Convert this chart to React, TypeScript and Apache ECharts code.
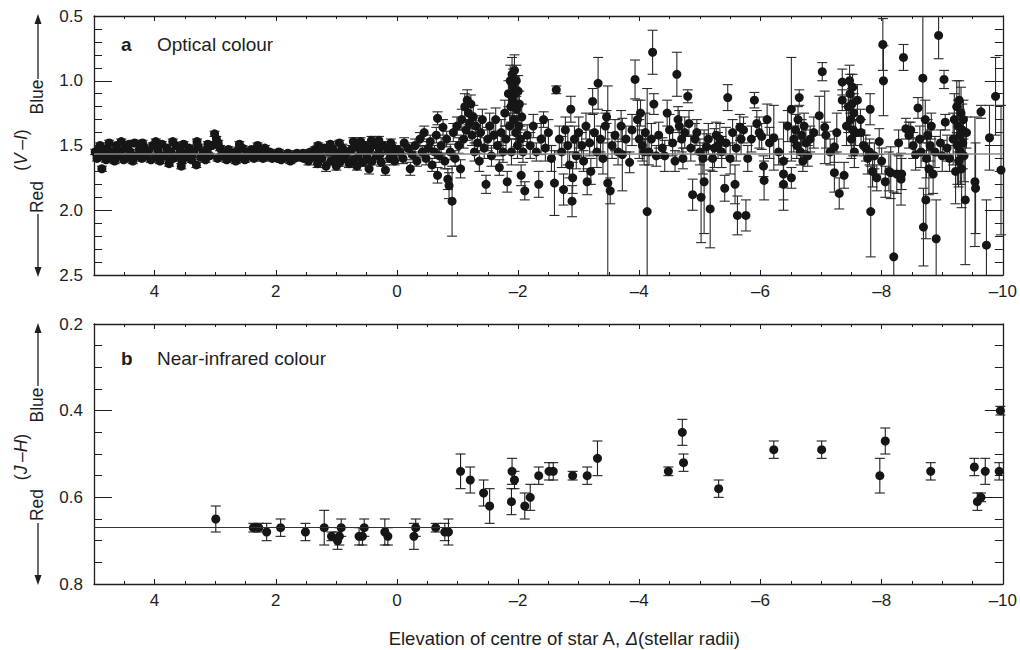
import React, { useEffect, useRef } from "react";
import * as echarts from "echarts";

// Panel a: optical colour (V-I) — [elevation, colour, error]
const opticalBand: number[][] = [
  [4.98,1.55,0.02],[4.92,1.53,0.02],[4.85,1.56,0.02],[4.78,1.52,0.02],[4.70,1.55,0.02],[4.63,1.50,0.02],[4.55,1.54,0.02],[4.48,1.52,0.02],[4.40,1.55,0.02],[4.33,1.48,0.02],[4.25,1.53,0.02],[4.18,1.51,0.02],[4.10,1.54,0.02],[4.03,1.50,0.02],[3.95,1.53,0.02],[3.88,1.49,0.02],[3.80,1.52,0.02],[3.73,1.55,0.02],[3.65,1.50,0.02],[3.58,1.53,0.02],[3.50,1.56,0.02],[3.43,1.52,0.02],[3.35,1.54,0.02],[3.28,1.51,0.02],[3.20,1.55,0.02],[3.13,1.53,0.02],[3.05,1.50,0.02],[2.98,1.45,0.02],[2.92,1.52,0.02],[2.85,1.55,0.02],[2.78,1.53,0.02],[2.70,1.56,0.02],[2.63,1.54,0.02],[2.55,1.52,0.02],[2.48,1.55,0.02],[2.40,1.53,0.02],[2.33,1.56,0.02],[2.25,1.54,0.02],[2.18,1.52,0.02],[2.10,1.55,0.02],[2.03,1.57,0.02],[1.95,1.55,0.02],[1.88,1.58,0.02],[1.80,1.56,0.02],[1.73,1.58,0.02],[1.65,1.56,0.02],[1.58,1.59,0.02],[1.50,1.57,0.02],[1.43,1.55,0.02],[1.35,1.53,0.02],[1.28,1.56,0.02],[1.20,1.52,0.02],[1.13,1.55,0.03],[1.05,1.53,0.03],[0.98,1.56,0.03],[0.90,1.52,0.03],[0.83,1.55,0.03],[0.75,1.53,0.03],[0.68,1.51,0.03],[0.60,1.54,0.03],[0.53,1.50,0.03],[0.45,1.53,0.03],[0.38,1.49,0.03],[0.30,1.52,0.03],[0.23,1.50,0.03],[0.15,1.54,0.03],[0.08,1.51,0.03],[0.00,1.53,0.03],
  [4.95,1.60,0.02],[4.88,1.58,0.02],[4.87,1.68,0.02],[4.80,1.61,0.02],[4.73,1.59,0.02],[4.66,1.62,0.02],[4.58,1.58,0.02],[4.51,1.61,0.02],[4.44,1.59,0.02],[4.36,1.62,0.02],[4.29,1.58,0.02],[4.21,1.60,0.02],[4.14,1.58,0.02],[4.06,1.61,0.02],[3.99,1.59,0.02],[3.91,1.62,0.02],[3.84,1.58,0.02],[3.76,1.64,0.02],[3.69,1.60,0.02],[3.61,1.58,0.02],[3.55,1.62,0.02],[3.47,1.59,0.02],[3.39,1.61,0.02],[3.31,1.65,0.02],[3.24,1.59,0.02],[3.16,1.61,0.02],[3.09,1.58,0.02],[3.01,1.41,0.02],[2.96,1.60,0.02],[2.89,1.58,0.02],[2.81,1.61,0.02],[2.74,1.59,0.02],[2.66,1.62,0.02],[2.59,1.59,0.02],[2.51,1.61,0.02],[2.44,1.58,0.02],[2.36,1.60,0.02],[2.29,1.58,0.02],[2.21,1.60,0.02],[2.14,1.58,0.02],[2.06,1.60,0.02],[1.99,1.59,0.02],[1.91,1.61,0.02],[1.84,1.59,0.02],[1.76,1.62,0.02],[1.69,1.60,0.02],[1.61,1.58,0.02],[1.54,1.60,0.02],[1.46,1.62,0.03],[1.39,1.59,0.03],[1.31,1.64,0.03],[1.24,1.60,0.03],[1.17,1.66,0.04],[1.09,1.62,0.03],[1.02,1.59,0.03],[0.94,1.63,0.03],[0.87,1.60,0.03],[0.79,1.64,0.03],[0.72,1.61,0.03],[0.64,1.59,0.03],[0.56,1.63,0.03],[0.49,1.60,0.03],[0.46,1.68,0.04],[0.41,1.62,0.03],[0.34,1.58,0.03],[0.26,1.63,0.03],[0.19,1.69,0.04],[0.12,1.60,0.03],[0.04,1.62,0.03],
  [4.90,1.50,0.02],[4.75,1.48,0.02],[4.55,1.47,0.02],[4.42,1.49,0.02],[4.20,1.48,0.02],[3.98,1.47,0.02],[3.70,1.47,0.02],[3.52,1.49,0.02],[3.30,1.47,0.02],[3.12,1.49,0.02],[2.95,1.48,0.02],[2.60,1.49,0.02],[2.30,1.50,0.02],[1.30,1.50,0.02],[1.10,1.49,0.02],[0.95,1.48,0.02],[0.72,1.47,0.03],[0.60,1.47,0.03],[0.42,1.46,0.03],[0.30,1.46,0.03],[0.10,1.48,0.03],
  [4.82,1.57,0.02],[4.60,1.56,0.02],[4.38,1.58,0.02],[4.15,1.56,0.02],[3.93,1.57,0.02],[3.75,1.60,0.02],[3.56,1.66,0.02],[3.38,1.57,0.02],[3.18,1.58,0.02],[2.88,1.57,0.02],[2.68,1.58,0.02],[2.45,1.57,0.02],[2.20,1.57,0.02],[1.97,1.60,0.02],[1.77,1.59,0.02],[1.55,1.56,0.02],[1.33,1.58,0.02],[1.00,1.66,0.03],[0.85,1.58,0.03],[0.66,1.66,0.03],[0.50,1.57,0.03],[0.28,1.57,0.03],[0.06,1.57,0.03],
];

const opticalEgress: number[][] = [
  [-0.05,1.55,0.04],[-0.10,1.60,0.04],[-0.12,1.48,0.04],[-0.18,1.52,0.04],[-0.22,1.68,0.05],[-0.25,1.57,0.04],[-0.30,1.50,0.05],[-0.33,1.62,0.04],[-0.38,1.45,0.05],[-0.42,1.55,0.04],[-0.45,1.40,0.05],[-0.48,1.60,0.05],[-0.52,1.52,0.05],[-0.55,1.47,0.05],[-0.58,1.65,0.05],[-0.62,1.55,0.05],[-0.65,1.42,0.06],[-0.67,1.29,0.05],[-0.67,1.73,0.06],[-0.70,1.58,0.05],[-0.73,1.50,0.06],[-0.76,1.36,0.06],[-0.79,1.62,0.06],[-0.82,1.45,0.06],[-0.84,1.76,0.08],[-0.86,1.81,0.10],[-0.88,1.55,0.06],[-0.91,1.93,0.27],[-0.93,1.40,0.07],[-0.96,1.60,0.06],[-0.99,1.35,0.07],[-1.02,1.50,0.06],[-1.05,1.68,0.07],[-1.07,1.30,0.08],[-1.10,1.45,0.07],[-1.12,1.20,0.10],[-1.14,1.38,0.08],[-1.16,1.15,0.08],[-1.18,1.25,0.09],[-1.20,1.33,0.08],[-1.22,1.18,0.07],[-1.24,1.42,0.08],[-1.26,1.28,0.09],[-1.28,1.55,0.07],[-1.30,1.35,0.08],[-1.33,1.48,0.08],[-1.36,1.62,0.08],[-1.38,1.40,0.09],[-1.41,1.30,0.08],[-1.44,1.52,0.08],[-1.47,1.80,0.07],[-1.50,1.45,0.09],[-1.53,1.35,0.10],[-1.56,1.58,0.08],[-1.60,1.42,0.10],[-1.63,1.30,0.09],[-1.66,1.50,0.08],[-1.69,1.67,0.06],[-1.72,1.40,0.10],[-1.75,1.55,0.08],[-1.78,1.25,0.10],[-1.80,1.45,0.10],[-1.82,1.78,0.08],[-1.84,1.10,0.10],[-1.86,1.35,0.10],[-1.87,1.00,0.12],[-1.88,1.20,0.12],[-1.89,1.55,0.10],[-1.90,0.95,0.13],[-1.91,1.15,0.12],[-1.92,1.05,0.14],[-1.93,1.30,0.12],[-1.94,0.92,0.12],[-1.95,1.10,0.13],[-1.96,1.40,0.11],[-1.97,1.00,0.12],[-1.98,1.22,0.12],[-1.99,1.50,0.10],[-2.00,1.08,0.12],[-2.01,1.35,0.10],[-2.02,1.18,0.10],[-2.04,1.45,0.10],[-2.05,1.73,0.08],[-2.06,1.28,0.10],[-2.08,1.55,0.08],[-2.11,1.85,0.07],
];

const opticalScatter: number[][] = [
  [-2.15,1.42,0.08],[-2.20,1.50,0.10],[-2.25,1.35,0.09],[-2.30,1.55,0.07],[-2.34,1.80,0.10],[-2.38,1.45,0.12],[-2.42,1.30,0.06],[-2.45,1.52,0.10],[-2.50,1.40,0.10],[-2.55,1.60,0.10],[-2.60,1.79,0.25],[-2.63,1.07,0.03],[-2.68,1.45,0.10],[-2.72,1.55,0.12],[-2.75,1.84,0.12],[-2.78,1.38,0.10],[-2.82,1.50,0.15],[-2.85,1.65,0.10],[-2.87,1.22,0.10],[-2.89,1.93,0.12],[-2.90,1.75,0.12],[-2.93,1.45,0.10],[-2.96,1.58,0.10],[-3.00,1.40,0.12],[-3.05,1.50,0.10],[-3.08,1.62,0.08],[-3.12,1.35,0.10],[-3.14,1.78,0.10],[-3.18,1.48,0.10],[-3.20,1.70,0.10],[-3.23,1.16,0.10],[-3.26,1.40,0.15],[-3.30,1.55,0.12],[-3.32,1.02,0.20],[-3.36,1.45,0.10],[-3.40,1.60,0.12],[-3.44,1.35,0.10],[-3.46,1.28,0.05],[-3.48,1.79,0.75],[-3.52,1.85,0.10],[-3.55,1.50,0.10],[-3.60,1.42,0.12],[-3.65,1.55,0.10],[-3.70,1.35,0.12],[-3.72,1.57,0.28],[-3.78,1.45,0.10],[-3.84,1.63,0.08],[-3.88,1.38,0.12],[-3.93,0.99,0.15],[-3.97,1.30,0.15],[-4.00,1.45,0.15],[-4.02,1.25,0.10],[-4.05,1.50,0.12],[-4.08,1.55,0.10],[-4.10,1.40,0.15],[-4.13,2.01,0.95],[-4.16,1.55,0.10],[-4.20,1.45,0.12],[-4.22,0.78,0.17],[-4.24,1.18,0.08],[-4.28,1.58,0.08],[-4.32,1.42,0.10],[-4.38,1.52,0.08],[-4.42,1.58,0.12],[-4.46,1.25,0.10],[-4.50,1.38,0.12],[-4.55,1.48,0.10],[-4.59,1.62,0.08],[-4.62,0.95,0.17],[-4.64,1.30,0.10],[-4.66,1.35,0.12],[-4.70,1.45,0.10],[-4.72,1.60,0.08],[-4.75,1.40,0.12],[-4.80,1.12,0.05],[-4.82,1.33,0.10],[-4.85,1.52,0.10],[-4.88,1.88,0.12],[-4.92,1.45,0.12],[-4.95,1.40,0.10],[-5.00,1.55,0.10],[-5.02,1.90,0.35],[-5.05,1.60,0.12],[-5.07,1.78,0.40],[-5.11,1.51,0.10],[-5.14,1.45,0.12],[-5.17,1.99,0.30],[-5.21,1.60,0.10],[-5.24,1.52,0.15],[-5.27,1.42,0.10],[-5.30,1.50,0.10],[-5.33,1.45,0.12],[-5.36,1.55,0.12],[-5.41,1.83,0.10],[-5.43,1.48,0.12],[-5.46,1.13,0.10],[-5.50,1.60,0.12],[-5.54,1.40,0.10],[-5.58,1.80,0.15],[-5.60,1.52,0.10],[-5.62,2.04,0.15],[-5.66,1.36,0.10],[-5.68,1.45,0.12],[-5.72,1.38,0.10],[-5.76,2.04,0.12],[-5.79,1.60,0.10],[-5.85,1.45,0.10],[-5.90,1.15,0.06],[-5.94,1.33,0.10],[-5.98,1.40,0.12],[-6.02,1.43,0.10],[-6.05,1.66,0.08],[-6.06,1.77,0.15],[-6.11,1.30,0.12],[-6.15,1.48,0.12],[-6.22,1.44,0.25],[-6.30,1.55,0.10],[-6.38,1.62,0.30],[-6.38,1.72,0.10],[-6.38,1.80,0.20],[-6.45,1.35,0.12],[-6.51,1.22,0.40],[-6.51,1.75,0.08],[-6.55,1.45,0.10],[-6.58,1.38,0.12],[-6.60,1.50,0.10],[-6.62,1.30,0.10],[-6.64,1.13,0.06],[-6.66,1.55,0.10],[-6.68,1.42,0.12],[-6.70,1.62,0.08],[-6.72,1.35,0.10],[-6.75,1.48,0.10],[-6.78,1.58,0.08],[-6.82,1.45,0.10],[-6.88,1.40,0.12],[-6.97,1.27,0.15],[-7.02,0.93,0.07],[-7.06,1.36,0.28],[-7.08,1.42,0.10],[-7.15,1.55,0.10],[-7.22,1.51,0.12],[-7.22,1.71,0.15],[-7.26,1.40,0.15],[-7.30,1.87,0.12],[-7.35,1.01,0.10],[-7.35,1.15,0.08],[-7.38,1.73,0.10],[-7.42,1.35,0.15],[-7.45,1.20,0.20],[-7.47,1.00,0.12],[-7.48,1.10,0.15],[-7.49,1.30,0.20],[-7.50,1.45,0.15],[-7.51,1.18,0.12],[-7.52,1.05,0.10],[-7.53,1.38,0.20],[-7.54,1.25,0.15],[-7.55,1.55,0.12],[-7.57,1.40,0.10],[-7.60,1.15,0.12],[-7.65,1.30,0.08],[-7.66,1.40,0.10],[-7.70,1.50,0.08],[-7.74,1.52,0.10],[-7.77,1.60,0.12],[-7.80,1.55,0.10],[-7.81,1.22,0.12],[-7.82,2.01,0.35],[-7.85,1.70,0.12],[-7.88,1.58,0.10],[-7.92,1.75,0.10],[-7.96,1.47,0.10],[-8.00,1.62,0.10],[-8.02,0.72,0.20],[-8.03,1.00,0.27],[-8.06,1.78,0.12],[-8.12,1.70,0.15],[-8.15,1.71,0.20],[-8.20,2.36,0.50],[-8.25,1.72,0.15],[-8.28,1.48,0.10],[-8.32,1.76,0.20],[-8.33,1.72,0.12],[-8.36,0.82,0.10],[-8.40,1.37,0.08],[-8.45,1.42,0.10],[-8.48,1.38,0.06],[-8.52,1.50,0.10],[-8.56,1.57,0.12],[-8.60,1.21,0.08],[-8.63,1.45,0.10],[-8.65,1.55,0.12],[-8.68,0.98,0.50],[-8.69,2.13,0.30],[-8.72,1.30,0.15],[-8.73,1.92,0.30],[-8.74,1.60,0.15],[-8.76,1.42,0.12],[-8.78,1.68,0.20],[-8.80,1.50,0.12],[-8.82,1.35,0.10],[-8.85,1.72,0.15],[-8.88,1.55,0.12],[-8.90,2.22,0.30],[-8.94,0.65,0.18],[-8.97,1.48,0.10],[-9.00,1.58,0.12],[-9.03,0.99,0.07],[-9.05,1.32,0.06],[-9.08,1.52,0.10],[-9.12,1.60,0.10],[-9.18,1.45,0.20],[-9.20,1.30,0.20],[-9.22,1.70,0.25],[-9.24,1.20,0.20],[-9.25,1.50,0.30],[-9.26,1.35,0.20],[-9.27,1.62,0.20],[-9.28,1.15,0.15],[-9.29,1.42,0.20],[-9.30,1.55,0.25],[-9.31,1.25,0.20],[-9.32,1.68,0.30],[-9.33,1.38,0.20],[-9.34,1.48,0.20],[-9.35,1.30,0.15],[-9.36,1.58,0.20],[-9.38,1.92,0.50],[-9.40,1.40,0.12],[-9.54,1.78,0.50],[-9.55,1.83,0.35],[-9.64,1.24,0.05],[-9.73,2.27,0.35],[-9.78,1.44,0.25],[-9.88,1.12,0.30],[-9.97,1.69,0.50],
];

// Panel b: near-infrared colour (J-H) — [elevation, colour, error]
const infrared: number[][] = [
  [2.99,0.65,0.03],[2.37,0.67,0.01],[2.28,0.67,0.01],[2.15,0.68,0.02],[1.92,0.67,0.02],[1.51,0.68,0.02],[1.20,0.67,0.04],[1.08,0.69,0.01],[0.98,0.70,0.02],[0.95,0.69,0.02],[0.92,0.67,0.02],[0.625,0.69,0.02],[0.57,0.69,0.02],[0.54,0.67,0.02],[0.20,0.68,0.03],[0.15,0.69,0.02],[-0.28,0.69,0.03],[-0.31,0.67,0.02],[-0.64,0.67,0.01],[-0.79,0.68,0.02],[-0.85,0.68,0.03],
  [-1.05,0.54,0.04],[-1.21,0.56,0.03],[-1.43,0.59,0.03],[-1.53,0.62,0.04],[-1.89,0.61,0.03],[-1.90,0.54,0.03],[-1.94,0.56,0.02],[-2.11,0.62,0.03],[-2.20,0.60,0.03],[-2.34,0.55,0.02],[-2.51,0.54,0.02],[-2.58,0.54,0.02],[-2.90,0.55,0.01],[-3.14,0.55,0.02],[-3.31,0.51,0.04],
  [-4.48,0.54,0.01],[-4.71,0.45,0.03],[-4.73,0.52,0.02],[-5.31,0.58,0.02],[-6.22,0.49,0.02],[-7.01,0.49,0.02],[-7.97,0.55,0.04],[-8.06,0.47,0.03],[-8.81,0.54,0.02],[-9.53,0.53,0.02],[-9.58,0.61,0.02],[-9.64,0.60,0.01],[-9.71,0.54,0.03],[-9.94,0.54,0.02],[-9.96,0.40,0.01],
];

const opticalMean = 1.56;
const infraredMean = 0.67;

const xTicksMin = -10;
const xTicksMax = 5;

const FONT = "'Liberation Sans', Arial, Helvetica, sans-serif";
const INK = "#1e1e1e";

function errorRenderer(yLo: number, yHi: number, color: string) {
  return (params: any, api: any) => {
    const x = api.value(0);
    const y = api.value(1);
    const e = api.value(2);
    const a = y - e;
    const b = y + e;
    const ac = Math.max(a, yLo);
    const bc = Math.min(b, yHi);
    const p1 = api.coord([x, ac]);
    const p2 = api.coord([x, bc]);
    const half = 5;
    const st = { stroke: color, lineWidth: 1.1 };
    const children: any[] = [
      { type: "line", shape: { x1: p1[0], y1: p1[1], x2: p2[0], y2: p2[1] }, style: st },
    ];
    if (a >= yLo) children.push({ type: "line", shape: { x1: p1[0] - half, y1: p1[1], x2: p1[0] + half, y2: p1[1] }, style: st });
    if (b <= yHi) children.push({ type: "line", shape: { x1: p2[0] - half, y1: p2[1], x2: p2[0] + half, y2: p2[1] }, style: st });
    return { type: "group", children };
  };
}

function xAxisPair(gridIndex: number) {
  const common = {
    gridIndex,
    type: "value",
    min: xTicksMin,
    max: xTicksMax,
    inverse: true,
    interval: 2,
    splitLine: { show: false },
    axisLine: { show: true, onZero: false, lineStyle: { color: INK, width: 1.3 } },
    axisTick: { show: true, inside: true, length: 5, lineStyle: { color: INK } },
    minorTick: { show: true, splitNumber: 4, length: 3, lineStyle: { color: INK } },
  };
  return [
    {
      ...common,
      position: "bottom",
      axisLabel: {
        show: true,
        margin: 8,
        color: INK,
        fontSize: 17,
        fontFamily: FONT,
        formatter: (v: number) => (v === xTicksMax ? "" : v < 0 ? "\u2013" + Math.abs(v) : String(v)),
      },
    },
    { ...common, position: "top", axisLabel: { show: false } },
  ];
}

function yAxisPair(gridIndex: number, min: number, max: number, interval: number, minorSplit: number) {
  const common = {
    gridIndex,
    type: "value",
    min,
    max,
    inverse: true,
    interval,
    splitLine: { show: false },
    axisLine: { show: true, onZero: false, lineStyle: { color: INK, width: 1.3 } },
    axisTick: { show: true, inside: true, length: 18, lineStyle: { color: INK } },
    minorTick: { show: true, splitNumber: minorSplit, length: 8, lineStyle: { color: INK } },
  };
  return [
    {
      ...common,
      position: "left",
      axisLabel: {
        show: true,
        margin: 11,
        color: INK,
        fontSize: 17,
        fontFamily: FONT,
        formatter: (v: number) => v.toFixed(1),
      },
    },
    { ...common, position: "right", axisLabel: { show: false } },
  ];
}

const VSIZE = 17.5;

function vText(text: string, x: number, y: number, rich?: any) {
  return {
    type: "text",
    x,
    y,
    rotation: Math.PI / 2,
    style: {
      text,
      fill: INK,
      font: `${VSIZE}px ${FONT}`,
      align: "center",
      verticalAlign: "middle",
      rich,
    },
  };
}

function arrow(x: number, yFrom: number, yTip: number) {
  const dir = yTip < yFrom ? -1 : 1;
  return [
    { type: "line", shape: { x1: x, y1: yFrom, x2: x, y2: yTip - dir * 6 }, style: { stroke: INK, lineWidth: 1.3 } },
    {
      type: "polygon",
      shape: { points: [[x, yTip], [x - 3.5, yTip - dir * 10], [x + 3.5, yTip - dir * 10]] },
      style: { fill: INK },
    },
  ];
}

const italicV = { i: { fontStyle: "italic", fontSize: VSIZE, fontFamily: FONT, fill: INK } };
const italicT = { i: { fontStyle: "italic", fontSize: 18.5, fontFamily: FONT, fill: INK } };

export default function App() {
  const ref = useRef<HTMLDivElement>(null);
  useEffect(() => {
    if (!ref.current) return;
    const chart = echarts.init(ref.current, null, { renderer: "svg" });
    const opticalAll = [...opticalBand, ...opticalEgress, ...opticalScatter];

    const option: any = {
      animation: false,
      backgroundColor: "#fff",
      grid: [
        { left: 94, top: 16, width: 912, height: 259 },
        { left: 94, top: 324, width: 912, height: 260 },
      ],
      xAxis: [...xAxisPair(0), ...xAxisPair(1)],
      yAxis: [...yAxisPair(0, 0.5, 2.5, 0.5, 5), ...yAxisPair(1, 0.2, 0.8, 0.2, 4)],
      series: [
        {
          type: "custom",
          xAxisIndex: 0,
          yAxisIndex: 0,
          renderItem: errorRenderer(0.5, 2.5, "#2a2a2a"),
          data: opticalAll,
          encode: { x: 0, y: 1 },
          z: 2,
        },
        {
          type: "scatter",
          xAxisIndex: 0,
          yAxisIndex: 0,
          symbol: "circle",
          symbolSize: 9,
          itemStyle: { color: "#161616", opacity: 1 },
          data: opticalAll.map((d) => [d[0], d[1]]),
          z: 3,
          markLine: {
            silent: true,
            symbol: "none",
            label: { show: false },
            lineStyle: { color: "#8a8a8a", width: 1.5, type: "solid" },
            data: [{ yAxis: opticalMean }],
          },
        },
        {
          type: "custom",
          xAxisIndex: 2,
          yAxisIndex: 2,
          renderItem: errorRenderer(0.2, 0.8, "#1e1e1e"),
          data: infrared,
          encode: { x: 0, y: 1 },
          z: 2,
        },
        {
          type: "scatter",
          xAxisIndex: 2,
          yAxisIndex: 2,
          symbol: "circle",
          symbolSize: 9,
          itemStyle: { color: "#161616", opacity: 1 },
          data: infrared.map((d) => [d[0], d[1]]),
          z: 3,
          markLine: {
            silent: true,
            symbol: "none",
            label: { show: false },
            lineStyle: { color: "#333", width: 1.1, type: "solid" },
            data: [{ yAxis: infraredMean }],
          },
        },
      ],
      graphic: [
        { type: "text", x: 121, y: 44, style: { text: "a", fill: INK, font: `bold 19px ${FONT}`, verticalAlign: "middle" } },
        { type: "text", x: 157, y: 44, style: { text: "Optical colour", fill: INK, font: `19px ${FONT}`, verticalAlign: "middle" } },
        { type: "text", x: 121, y: 358, style: { text: "b", fill: INK, font: `bold 19px ${FONT}`, verticalAlign: "middle" } },
        { type: "text", x: 157, y: 358, style: { text: "Near-infrared colour", fill: INK, font: `19px ${FONT}`, verticalAlign: "middle" } },
        vText("Blue", 37, 97),
        vText("({i|V}\u2009\u2013{i|I})", 21, 150, italicV),
        vText("Red", 37, 197),
        ...arrow(38, 79, 14),
        ...arrow(38, 214, 277),
        vText("Blue", 37, 405),
        vText("({i|J}\u2009\u2013{i|H})", 21, 457, italicV),
        vText("Red", 37, 505),
        ...arrow(38, 386, 323),
        ...arrow(38, 523, 585),
        {
          type: "text",
          x: 564,
          y: 638,
          style: {
            text: "Elevation of centre of star A, {i|\u0394}(stellar radii)",
            fill: INK,
            font: `18.5px ${FONT}`,
            align: "center",
            verticalAlign: "middle",
            rich: italicT,
          },
        },
      ],
    };
    chart.setOption(option);
    return () => chart.dispose();
  }, []);
  return (
    <div
      ref={ref}
      style={{ position: "fixed", left: 0, top: 0, width: 1020, height: 650, background: "#fff" }}
    />
  );
}
